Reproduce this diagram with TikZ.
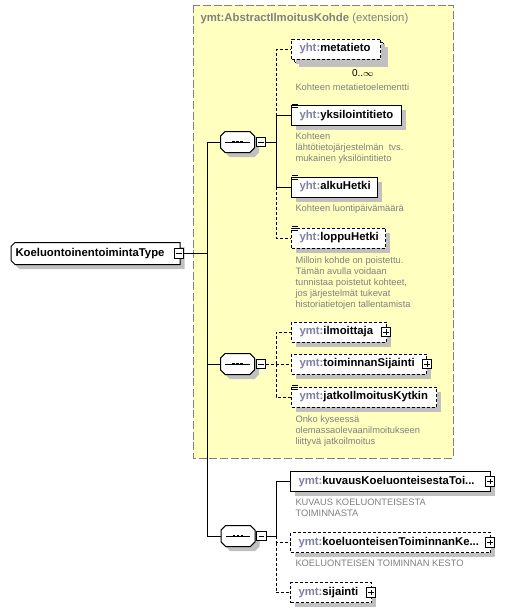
\documentclass[tikz,border=0pt]{standalone}
\usepackage{fontspec}
\setmainfont{Liberation Sans}
\usepackage{xcolor}
\usetikzlibrary{positioning,shadows}

\definecolor{extfill}{RGB}{255,255,192}
\definecolor{extline}{RGB}{128,128,128}
\definecolor{pfx}{RGB}{128,128,160}
\definecolor{desc}{RGB}{128,128,128}
\definecolor{shadowgray}{RGB}{192,192,192}
\newcommand{\qn}[2]{\mbox{\textcolor{pfx}{#1:}#2}}

\begin{document}
\begin{tikzpicture}[x=0.75pt, y=-0.75pt, line width=0.75pt,
    boxshadow/.style={drop shadow={shadow xshift=3.5pt, shadow yshift=-3.5pt, fill=shadowgray, opacity=1}},
    elem/.style={draw, fill=white, boxshadow, anchor=west, minimum height=15pt,
      inner xsep=6pt, inner ysep=0pt, align=left, font=\fontsize{8.5}{10}\selectfont\bfseries},
    optelem/.style={elem, dash pattern=on 2.25pt off 1.5pt},
    optline/.style={dash pattern=on 2.25pt off 1.5pt},
    note/.style={anchor=north west, inner sep=0pt, align=left, text=desc,
      font=\fontsize{7}{8.25}\selectfont},
    seqbox/.style={minimum width=24.75pt, minimum height=15pt, inner sep=0pt},
    signbox/.style={draw, fill=white, minimum size=7pt, inner sep=0pt},
    minusbox/.style={signbox, path picture={
        \draw[line width=0.6pt] ([xshift=1.3pt]path picture bounding box.west) -- ([xshift=-1.3pt]path picture bounding box.east);}},
    plusbox/.style={signbox, path picture={
        \draw[line width=0.6pt] ([xshift=1.3pt]path picture bounding box.west) -- ([xshift=-1.3pt]path picture bounding box.east);
        \draw[line width=0.6pt] ([yshift=-1.3pt]path picture bounding box.north) -- ([yshift=1.3pt]path picture bounding box.south);}}
  ]
  \useasboundingbox (0,0) rectangle (518,612);

  % extension area
  \filldraw[fill=extfill, draw=extline, dash pattern=on 6pt off 2pt] (193,5) rectangle (453,458);
  \node[anchor=west, inner sep=0pt, text=extline, font=\fontsize{8.5}{10}\selectfont] (ext) at (200,19)
    {\textbf{ymt:AbstractIlmoitusKohde} (extension)};

  % root type
  \node[anchor=west, minimum height=15.75pt, inner xsep=3pt, inner ysep=0pt,
    text width=120pt, align=left, font=\fontsize{8.5}{10}\selectfont\bfseries] (root) at (11,253.5)
    {\phantom{KoeluontoinentoimintaType}};
  \filldraw[fill=white, boxshadow] ([xshift=3pt]root.north west) -- (root.north east) -- (root.south east)
    -- ([xshift=3pt]root.south west) -- ([yshift=3pt]root.south west) -- ([yshift=-3pt]root.north west) -- cycle;
  \node[anchor=west, inner xsep=3pt, inner ysep=0pt, font=\fontsize{8.5}{10}\selectfont\bfseries] (roott) at (root.west)
    {KoeluontoinentoimintaType};
  \node[minusbox] (rootm) at ([xshift=-0.75pt]root.east) {};

  % sequences
  \node[seqbox] (seq1) at (237.5,142) {};
  \node[seqbox] (seq2) at (237.5,364) {};
  \node[seqbox] (seq3) at (238,536) {};
  \foreach \s in {seq1,seq2,seq3} {
    \filldraw[fill=white, boxshadow] ([xshift=3.5pt]\s.north west) -- ([xshift=-3.5pt]\s.north east)
      -- ([yshift=-3.5pt]\s.north east) -- ([yshift=3.5pt]\s.south east) -- ([xshift=-3.5pt]\s.south east)
      -- ([xshift=3.5pt]\s.south west) -- ([yshift=3.5pt]\s.south west) -- ([yshift=-3.5pt]\s.north west) -- cycle;
    \draw ([xshift=3.5pt]\s.west) -- ([xshift=-3.5pt]\s.east);
    \foreach \dx in {-3,0,3}
      \fill ([xshift=\dx pt-1pt, yshift=-1pt]\s.center) rectangle ([xshift=\dx pt+1pt, yshift=1pt]\s.center);
  }
  \node[minusbox, right=1pt of seq1] (seq1m) {};
  \node[minusbox, right=1pt of seq2] (seq2m) {};
  \node[minusbox, right=1pt of seq3] (seq3m) {};

  % first sequence
  \node[optelem, text width=54.75pt, xshift=2.25pt, yshift=-2.25pt] (metab) at (291,49) {\phantom{\qn{yht}{metatieto}}};
  \node[optelem, text width=54.75pt, drop shadow={opacity=0}] (meta) at (291,49) {\qn{yht}{metatieto}};
  \node[font=\fontsize{7.5}{9}\selectfont, inner sep=0pt] (metan) at (363,73) {0..$\infty$};
  \node[note] (metad) at (295,83) {Kohteen metatietoelementti};

  \node[elem, text width=70.5pt] (yks) at (291,115.5) {\qn{yht}{yksilointitieto}};
  \node[note] (yksd) at (295,132) {Kohteen\\lähtötietojärjestelmän\ \ tvs.\\mukainen yksilöintitieto};

  \node[elem, text width=52.5pt] (alku) at (291,187) {\qn{yht}{alkuHetki}};
  \node[note] (alkud) at (295,204) {Kohteen luontipäivämäärä};

  \node[optelem, text width=58.5pt] (loppu) at (291,238) {\qn{yht}{loppuHetki}};
  \node[note] (loppud) at (295,256) {Milloin kohde on poistettu.\\Tämän avulla voidaan\\tunnistaa poistetut kohteet,\\jos järjestelmät tukevat\\historiatietojen tallentamista};

  % second sequence
  \node[optelem, text width=59.25pt] (ilm) at (291,332) {\qn{ymt}{ilmoittaja}};
  \node[plusbox] (ilmp) at ([xshift=-0.75pt]ilm.east) {};
  \node[optelem, text width=89.25pt] (tsij) at (291,364) {\qn{ymt}{toiminnanSijainti}};
  \node[plusbox] (tsijp) at (tsij.east) {};
  \node[optelem, text width=96.75pt] (jatko) at (291,397) {\qn{ymt}{jatkoIlmoitusKytkin}};
  \node[note] (jatkod) at (295,415) {Onko kyseessä\\olemassaolevaanilmoitukseen\\liittyvä jatkoilmoitus};

  % third sequence
  \node[elem, text width=138pt] (kuv) at (290,481.5) {\qn{ymt}{kuvausKoeluonteisestaToi...}};
  \node[plusbox] (kuvp) at ([xshift=-0.75pt]kuv.east) {};
  \node[note] (kuvd) at (295,498) {KUVAUS KOELUONTEISESTA\\TOIMINNASTA};
  \node[optelem, text width=138pt] (koel) at (290,542.5) {\qn{ymt}{koeluonteisenToiminnanKe...}};
  \node[plusbox] (koelp) at ([xshift=-0.75pt]koel.east) {};
  \node[note] (koeld) at (295,559) {KOELUONTEISEN TOIMINNAN KESTO};
  \node[optelem, text width=48.75pt] (sijn) at (290,592.5) {\qn{ymt}{sijainti}};
  \node[plusbox] (sijnp) at ([xshift=-0.75pt]sijn.east) {};

  % simple content marks
  \foreach \n in {yks,alku,loppu,jatko}
    \foreach \i in {0,1,2}
      \draw[line width=0.5pt] ([xshift=1pt, yshift=0.75pt-\i*1.3pt]\n.north west) -- ++(4pt,0);

  % connectors
  \coordinate (t) at (207,253.5);
  \coordinate (b1) at (276,142);
  \coordinate (b2) at (276,364);
  \coordinate (b3) at (276,536);

  \draw (rootm) -- (t);
  \draw (t) |- (seq1);
  \draw (t) |- (seq3);
  \draw (seq2 -| t) -- (seq2);

  \draw (seq1m) -- (b1);
  \draw (b1) |- (yks);
  \draw (b1) |- (alku);
  \draw[optline] (yks -| b1) |- (meta);
  \draw[optline] (alku -| b1) |- (loppu);

  \draw[optline] (seq2m) -- (tsij);
  \draw[optline] (b2) |- (ilm);
  \draw[optline] (b2) |- (jatko);

  \draw (seq3m) -- (b3);
  \draw (b3) |- (kuv);
  \draw[optline] (b3) |- (koel);
  \draw[optline] (koel -| b3) |- (sijn);
\end{tikzpicture}
\end{document}
